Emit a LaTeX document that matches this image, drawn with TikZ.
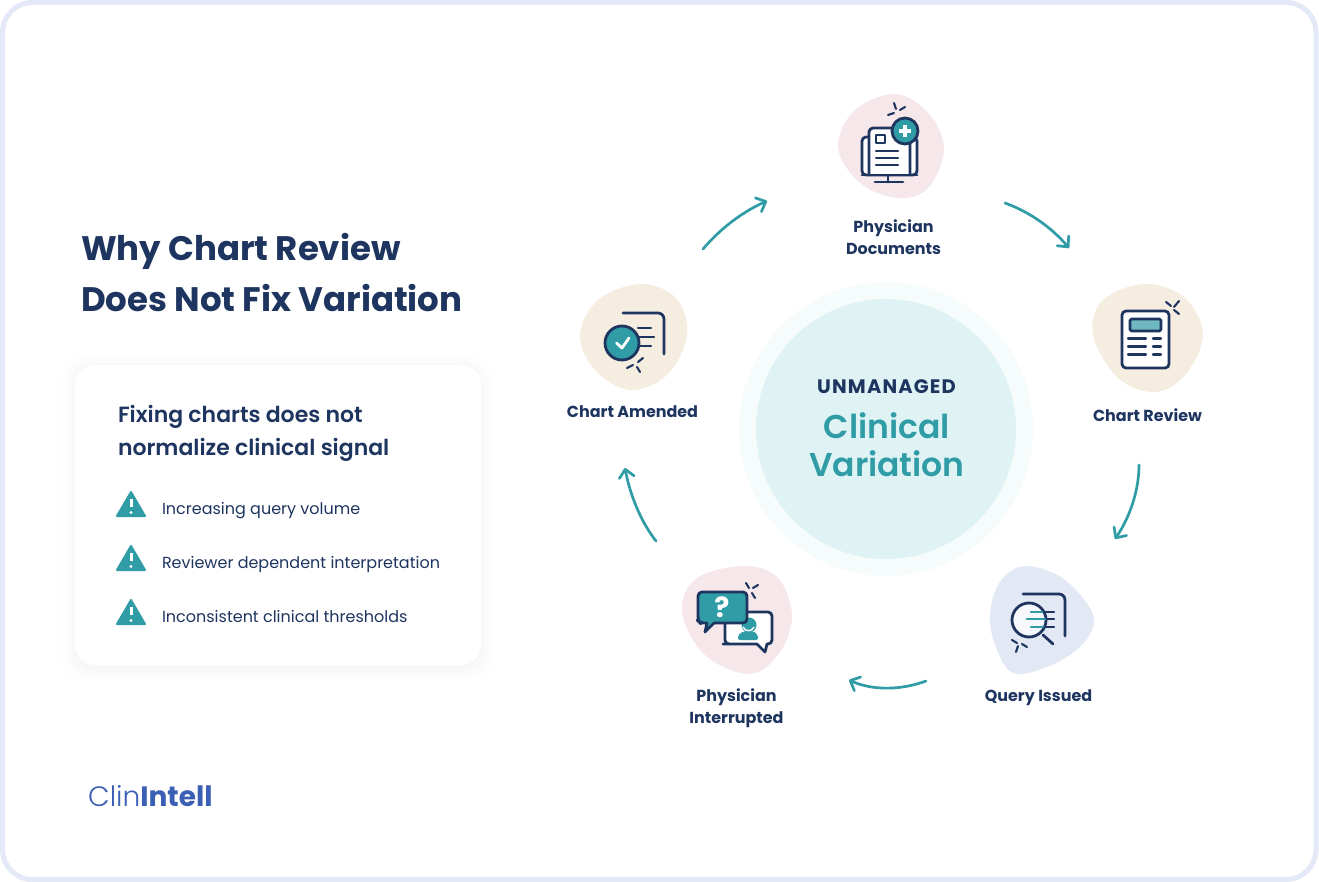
\documentclass[tikz,border=0pt]{standalone}
\usepackage{fontspec}
\usetikzlibrary{arrows.meta}
\setmainfont{Poppins}
\newfontfamily\popl{Poppins Light}
\newfontfamily\popm{Poppins Medium}
\newfontfamily\pops{Poppins SemiBold}
\newfontfamily\popb{Poppins}[UprightFont={* Bold}]
\newfontfamily\popsp{Poppins}[UprightFont={* Bold},LetterSpace=6]
\definecolor{navy}{HTML}{1E3560}
\definecolor{teal1}{HTML}{2F9CA6}
\definecolor{tealb}{HTML}{6FB8C1}
\definecolor{frameb}{HTML}{E3E9F7}
\definecolor{rosea}{HTML}{F6E7EA}
\definecolor{sand}{HTML}{F6EDE1}
\definecolor{lilac}{HTML}{E3E8F5}
\definecolor{innerc}{HTML}{DFF3F5}
\definecolor{halo}{HTML}{F6FBFB}
\definecolor{brand}{HTML}{3A5FB4}
\tikzset{
  x=1pt,y=-1pt,
  txt/.style={inner sep=0pt,outer sep=0pt,text=navy},
  lbl/.style={txt,align=center,font=\fontsize{15.95}{22}\popb},
  item/.style={txt,anchor=base west,font=\fontsize{16}{20}\selectfont},
  ln/.style={draw=navy,line width=2.8pt,line cap=round,line join=round},
  thin/.style={draw=navy,line width=2.1pt,line cap=round,line join=round},
  tl/.style={draw=teal1,line width=2.6pt,line cap=round},
  wl/.style={draw=white,line width=2.8pt,line cap=round,line join=round},
  flow/.style={draw=teal1,line width=2.7pt,line cap=round,-{Straight Barb[length=8pt,width=15pt,line width=2.7pt,round]}},
}
\newcommand{\warnicon}[1]{%
  \begin{scope}[yshift=#1]
    \filldraw[teal1,line width=2pt,line join=round] (131,492) -- (145,516) -- (117,516) -- cycle;
    \draw[white,line width=3pt] (131,499) -- (131,507);
    \fill[white] (131,512.5) circle (1.7);
  \end{scope}}
\begin{document}
\begin{tikzpicture}
\useasboundingbox (0,0) rectangle (1319,882);
\fill[white] (0,0) rectangle (1319,882);
\draw[frameb,line width=5pt,rounded corners=30pt] (2.5,2.5) rectangle (1316,879.5);

% title
\node[txt,anchor=north west,align=left,font=\fontsize{34}{51}\popb] (title) at (81,233.5) {Why Chart Review\\Does Not Fix Variation};

% card
\foreach \d/\o in {14/0.004,11/0.005,8/0.006,5/0.007,2/0.009}{
  \fill[navy,opacity=\o,rounded corners=24pt] (75-\d,365-\d+3) rectangle (481+\d,665+\d+3);
}
\fill[white,rounded corners=20pt] (75,365) rectangle (481,665);
\node[txt,anchor=north west,align=left,font=\fontsize{22}{33}\pops] (cardhead) at (118,405) {Fixing charts does not\\normalize clinical signal};
\warnicon{0}
\warnicon{-54}
\warnicon{-108}
\node[item] (i1) at (162,514) {Increasing query volume};
\node[item] (i2) at (162,568) {Reviewer dependent interpretation};
\node[item] (i3) at (162,622) {Inconsistent clinical thresholds};

% logo
\node[inner sep=0pt,anchor=base west,text=brand,font=\fontsize{28}{30}\selectfont] (logo) at (88,806) {{\popl Clin}{\popb Intell}};

% centre
\fill[halo] (886,429) circle (147);
\fill[innerc] (886,429) circle (130);
\node[txt,anchor=base,font=\fontsize{19.5}{24}\popsp] (unm) at (886.5,393) {UNMANAGED};
\node[txt,text=teal1,align=center,font=\fontsize{33}{38}\pops] (cv) at (887,445) {Clinical\\Variation};

% blobs
\fill[rosea] plot[smooth cycle,tension=0.6] coordinates {(896,94)(930,115)(944,150)(928,188)(898,198)(860,183)(838,147)(855,110)};
\fill[sand] plot[smooth cycle,tension=0.6] coordinates {(1145,284)(1185,298)(1203,335)(1185,375)(1155,392)(1118,378)(1093,335)(1103,300)};
\fill[lilac] plot[smooth cycle,tension=0.6] coordinates {(1025,566)(1065,580)(1094,620)(1070,655)(1018,674)(997,650)(990,615)(1000,582)};
\fill[rosea] plot[smooth cycle,tension=0.6] coordinates {(745,566)(778,578)(792,615)(780,652)(750,674)(705,655)(682,612)(697,578)};
\fill[sand] plot[smooth cycle,tension=0.6] coordinates {(640,284)(676,298)(687,335)(667,375)(630,390)(595,370)(580,335)(598,300)};

% icon 1
\draw[ln,fill=white,rounded corners=4pt] (862,137) rectangle (917,175);
\draw[ln,fill=white,rounded corners=4pt] (869,175) -- (869,128) -- (910,128) -- (910,175);
\draw[ln] (862,175) -- (917,175);
\draw[ln] (888,175) -- (888,182) (875,182) -- (903,182);
\draw[thin] (876,135) rectangle (885,143);
\draw[thin] (876,151) -- (898,151) (876,158) -- (898,158) (876,165) -- (898,165);
\draw[ln,fill=teal1] (905,131) circle (13);
\draw[white,line width=4pt] (899,131) -- (911,131) (905,125) -- (905,137);
\draw[thin] (894,103) -- (896,109) (888,115) -- (894,113) (900,110) -- (905,107);

% icon 2
\draw[ln,fill=white,rounded corners=4pt] (1122,311) rectangle (1169,368);
\draw[ln,fill=tealb,rounded corners=1.5pt] (1130,319) rectangle (1161,331);
\draw[thin] (1128,338.5) -- (1146,338.5) (1153,338.5) -- (1161,338.5)
            (1128,346.5) -- (1146,346.5) (1153,346.5) -- (1161,346.5)
            (1128,354.5) -- (1146,354.5) (1153,354.5) -- (1161,354.5);
\draw[thin] (1166,302) -- (1171,306) (1174,307) -- (1179,301) (1174,310) -- (1179,314);

% icon 3
\draw[ln,rounded corners=6pt] (1023,594) -- (1065,594) -- (1065,636);
\draw[thin] (1043,612) -- (1054,612) (1046,619) -- (1054,619) (1043,627) -- (1054,627);
\draw[ln,fill=white!70!lilac] (1029,620) circle (17);
\draw[tl] (1031,612) -- (1042,612) (1027,619) -- (1045,619) (1031,627) -- (1043,627);
\draw[ln] (1043,635) -- (1053,644);
\draw[thin] (1012,640) -- (1017,643) (1016,652) -- (1018,646) (1022,644) -- (1027,647);

% icon 4
\draw[ln,fill=white,rounded corners=4pt] (757,644) -- (727,644) -- (725,644) -- (725,612) -- (772,612) -- (772,644) -- (767,644);
\draw[ln,fill=white,line join=round] (757,644) -- (765,652) -- (767,644);
\fill[teal1] (749,625) circle (7.5);
\fill[teal1,rounded corners=2pt] (738,640) -- (738,635) -- (744,631) -- (753,631) -- (758,635) -- (758,640) -- cycle;
\draw[white,line width=1.4pt] (743,627) .. controls (745,632) and (752,632) .. (754,627);
\draw[ln,fill=teal1,rounded corners=4pt] (707,623) -- (700,623) -- (698,621) -- (698,592) -- (747,592) -- (747,623) -- (714,623);
\fill[teal1] (707,621) -- (706,630) -- (714,621) -- cycle;
\draw[ln] (707,623) -- (705,632) -- (714,623);
\node[inner sep=0pt,text=white,font=\fontsize{28}{28}\popb] (qm) at (722,607.5) {?};
\draw[thin] (746,583) -- (749,588) (753,588) -- (758,585) (752,593) -- (755,598);

% icon 5
\draw[ln,rounded corners=6pt] (623,313) -- (664,313) -- (664,354);
\draw[thin] (638,328) -- (651,328) (638,337) -- (654,337) (640,346) -- (651,346);
\draw[ln,fill=teal1] (622,343) circle (17);
\draw[wl] (616.5,343) -- (622,348) -- (629,338);
\draw[thin] (627,368) -- (633,365) (637,367) -- (640,372) (638,362) -- (643,358);

% labels
\node[lbl] (l1) at (893.5,237.5) {Physician\\Documents};
\node[lbl] (l2) at (1147.5,415) {Chart Review};
\node[lbl] (l3) at (1038.5,697.5) {Query Issued};
\node[lbl] (l4) at (736.5,708.5) {Physician\\Interrupted};
\node[lbl] (l5) at (632.5,412) {Chart Amended};

% arrows
\coordinate (a1s) at (703,249); \coordinate (a1e) at (767,201);
\coordinate (a2s) at (1005,203); \coordinate (a2e) at (1069,248);
\coordinate (a3s) at (1139,465); \coordinate (a3e) at (1115,539);
\coordinate (a4s) at (926,681); \coordinate (a4e) at (849,680);
\coordinate (a5s) at (656,541); \coordinate (a5e) at (625,468);
\draw[flow] (a1s) .. controls (720,229) and (742,212) .. (a1e);
\draw[flow] (a2s) .. controls (1030,212) and (1052,228) .. (a2e);
\draw[flow] (a3s) .. controls (1139,490) and (1130,517) .. (a3e);
\draw[flow] (a4s) .. controls (902,690) and (873,691) .. (a4e);
\draw[flow] (a5s) .. controls (641,522) and (630,495) .. (a5e);
\end{tikzpicture}
\end{document}
